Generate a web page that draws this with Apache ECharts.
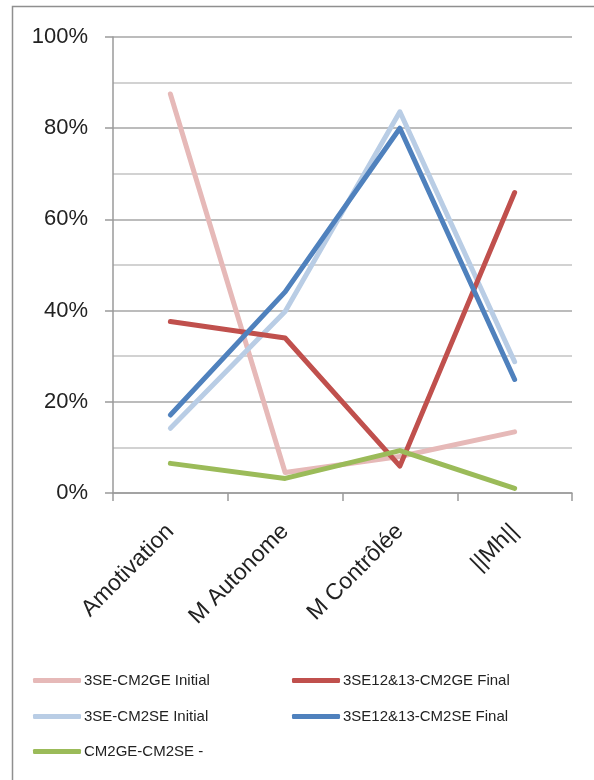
<!DOCTYPE html>
<html>
<head>
<meta charset="utf-8">
<script src="https://cdn.jsdelivr.net/npm/echarts@6/dist/echarts.min.js"></script>
<style>
  html, body { margin: 0; padding: 0; background: #fff; }
  #main { width: 594px; height: 780px; }
</style>
</head>
<body>
<div id="main"></div>
<script>
var categories = ['Amotivation', 'M Autonome', 'M Contrôlée', '||Mh||'];
var seriesNames = ['3SE-CM2GE Initial', '3SE12&13-CM2GE Final', '3SE-CM2SE Initial', '3SE12&13-CM2SE Final', 'CM2GE-CM2SE -'];
var cm2geInitial = [0.875, 0.045, 0.08, 0.134];
var cm2geFinal = [0.376, 0.34, 0.059, 0.659];
var cm2seInitial = [0.142, 0.398, 0.836, 0.288];
var cm2seFinal = [0.171, 0.441, 0.80, 0.249];
var gap = [0.065, 0.032, 0.093, 0.010];
var colors = ['#E6B9B8', '#C0504D', '#B9CDE5', '#4F81BD', '#9BBB59'];

var font = 'Liberation Sans';
var chart = echarts.init(document.getElementById('main'));

var values = [cm2geInitial, cm2geFinal, cm2seInitial, cm2seFinal, gap];
var series = values.map(function (v, i) {
  return {
    name: seriesNames[i],
    type: 'line',
    data: v,
    symbol: 'none',
    color: colors[i],
    lineStyle: { width: 5, color: colors[i], cap: 'round', join: 'round' },
    z: [1, 3, 2, 4, 5][i]
  };
});

// legend positions (two columns, three rows)
var legendPos = [[33, 673], [292, 673], [33, 709], [292, 709], [33, 744]];
var legends = seriesNames.map(function (n, i) {
  return {
    data: [n],
    left: legendPos[i][0],
    top: legendPos[i][1],
    icon: 'roundRect',
    itemWidth: 48,
    itemHeight: 5,
    itemGap: 0,
    padding: 0,
    textStyle: { fontFamily: font, fontSize: 15, color: '#222', padding: [0, 0, 0, -2] },
    selectedMode: false
  };
});

chart.setOption({
  animation: false,
  graphic: [{
    type: 'rect',
    shape: { x: 12.5, y: 6.5, width: 700, height: 900 },
    style: { fill: 'none', stroke: '#8f8f8f', lineWidth: 1.5 },
    silent: true
  }],
  legend: legends,
  grid: { left: 113, right: 22, top: 37, bottom: 287, containLabel: false },
  xAxis: {
    type: 'category',
    data: categories,
    boundaryGap: true,
    axisLine: { lineStyle: { color: '#9a9a9a', width: 1.5 } },
    axisTick: { show: true, length: 8, lineStyle: { color: '#9a9a9a', width: 1.5 } },
    axisLabel: { rotate: 45, margin: 35, fontFamily: font, fontSize: 23, color: '#222' }
  },
  yAxis: {
    type: 'value',
    min: 0,
    max: 1,
    interval: 0.2,
    axisLine: { show: true, lineStyle: { color: '#9a9a9a', width: 1.5 } },
    axisTick: { show: true, length: 8, lineStyle: { color: '#9a9a9a', width: 1.5 } },
    axisLabel: {
      margin: 25, fontFamily: font, fontSize: 22, color: '#222',
      formatter: function (v) { return Math.round(v * 100) + '%'; }
    },
    splitLine: { show: true, lineStyle: { color: '#a6a6a6', width: 1.5 } },
    minorTick: { show: false, splitNumber: 2 },
    minorSplitLine: { show: true, lineStyle: { color: '#c4c4c4', width: 1.5 } }
  },
  series: series
});
</script>
</body>
</html>
